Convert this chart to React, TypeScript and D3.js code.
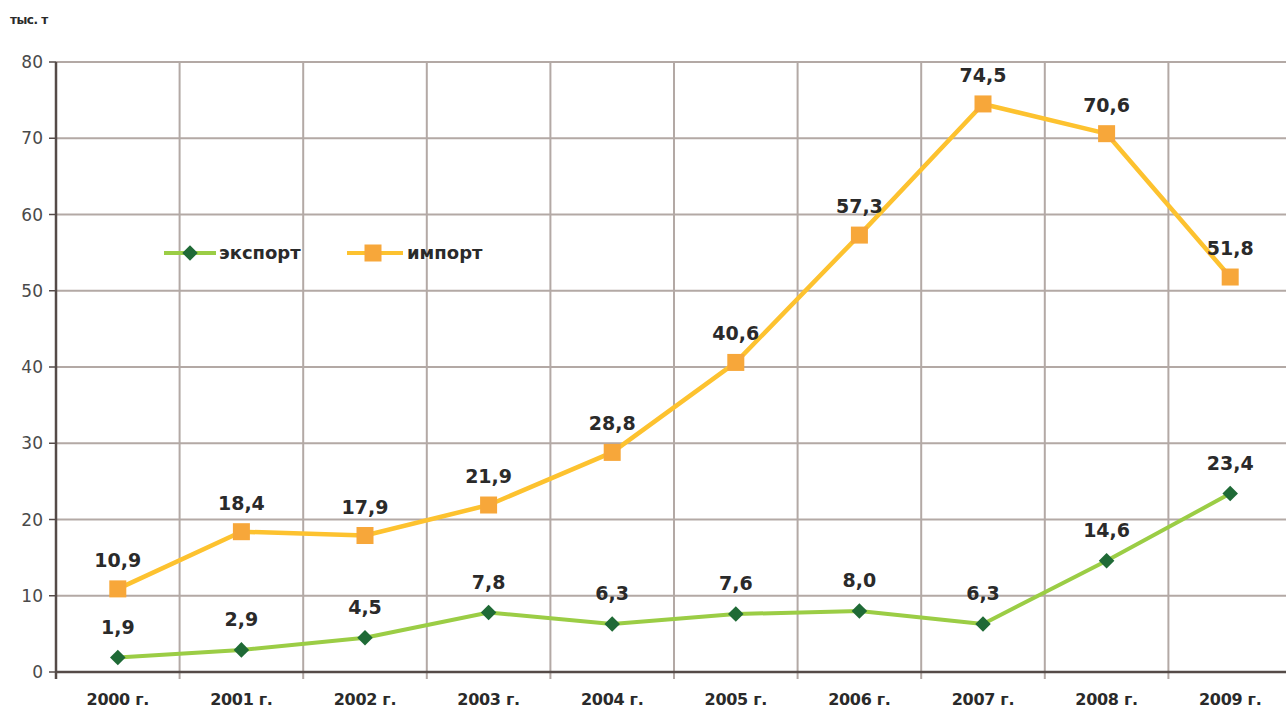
import React from 'react';
import * as d3 from 'd3';

const years = ['2000 г.', '2001 г.', '2002 г.', '2003 г.', '2004 г.', '2005 г.', '2006 г.', '2007 г.', '2008 г.', '2009 г.'];
const exportValues = [1.9, 2.9, 4.5, 7.8, 6.3, 7.6, 8.0, 6.3, 14.6, 23.4];
const importValues = [10.9, 18.4, 17.9, 21.9, 28.8, 40.6, 57.3, 74.5, 70.6, 51.8];
const yTicks = [0, 10, 20, 30, 40, 50, 60, 70, 80];

const width = 1286;
const height = 711;
const left = 56;
const top = 62;
const bottom = 672;
const right = left + 123.6 * 10;

const font = '"DejaVu Sans", "Open Sans", sans-serif';
const gridColor = '#b3a9a5';
const axisColor = '#554b48';
const textColor = '#2a2a2a';
const exportLine = '#9bcd45';
const exportMark = '#1f6a36';
const importLine = '#fdc22f';
const importMark = '#f7a73a';

const fmt = (v: number) => v.toFixed(1).replace('.', ',');

export default function App() {
  const x = d3.scaleBand<string>().domain(years).range([left, right]);
  const y = d3.scaleLinear().domain([0, 80]).range([bottom, top]);
  const cx = (i: number) => (x(years[i]) as number) + x.bandwidth() / 2;

  const line = d3.line<number>().x((_, i) => cx(i)).y(d => y(d));

  // vertical grid lines sit on category boundaries
  const boundaries = years.map(yr => (x(yr) as number) + x.bandwidth());

  return (
    <div style={{ position: 'fixed', left: 0, top: 0 }}>
      <svg width={width} height={height} style={{ display: 'block', background: '#fff', fontFamily: font }}>
        <text x={10} y={24} fontSize={12} fontWeight={700} fill={textColor} letterSpacing={-0.5}>тыс. т</text>

        {yTicks.filter(t => t > 0).map(t => (
          <line key={t} x1={left} x2={width} y1={y(t)} y2={y(t)} stroke={gridColor} strokeWidth={2} />
        ))}
        {boundaries.map((b, i) => (
          <line key={i} x1={b} x2={b} y1={top} y2={bottom + 7} stroke={gridColor} strokeWidth={2} />
        ))}

        <line x1={left} x2={left} y1={top} y2={bottom + 7} stroke={axisColor} strokeWidth={2.5} />
        <line x1={left} x2={width} y1={bottom} y2={bottom} stroke={axisColor} strokeWidth={2.5} />
        {yTicks.map(t => (
          <g key={t}>
            <line x1={left - 7} x2={left} y1={y(t)} y2={y(t)} stroke={axisColor} strokeWidth={1.5} />
            <text x={left - 13} y={y(t)} dy="0.36em" textAnchor="end" fontSize={17} fill="#4a4a4a">{t}</text>
          </g>
        ))}
        {years.map((yr, i) => (
          <text key={yr} x={cx(i)} y={bottom + 33} textAnchor="middle" fontSize={16} fontWeight={700} fill={textColor} letterSpacing={-0.3}>{yr}</text>
        ))}

        {/* импорт */}
        <path d={line(importValues) || ''} fill="none" stroke={importLine} strokeWidth={4.5} strokeLinejoin="round" />
        {importValues.map((v, i) => (
          <g key={i}>
            <rect x={cx(i) - 8.5} y={y(v) - 8.5} width={17} height={17} fill={importMark} />
            <text x={cx(i)} y={y(v) - 22} textAnchor="middle" fontSize={19} fontWeight={700} fill={textColor}>{fmt(v)}</text>
          </g>
        ))}

        {/* экспорт */}
        <path d={line(exportValues) || ''} fill="none" stroke={exportLine} strokeWidth={4} strokeLinejoin="round" />
        {exportValues.map((v, i) => (
          <g key={i}>
            <rect x={cx(i) - 5.5} y={y(v) - 5.5} width={11} height={11} fill={exportMark} transform={`rotate(45 ${cx(i)} ${y(v)})`} />
            <text x={cx(i)} y={y(v) - 24} textAnchor="middle" fontSize={19} fontWeight={700} fill={textColor}>{fmt(v)}</text>
          </g>
        ))}

        {/* legend */}
        <g>
          <line x1={164} x2={216} y1={253} y2={253} stroke={exportLine} strokeWidth={4} />
          <rect x={184.5} y={247.5} width={11} height={11} fill={exportMark} transform="rotate(45 190 253)" />
          <text x={219} y={253} dy="0.36em" fontSize={18} fontWeight={700} fill={textColor}>экспорт</text>
          <line x1={347} x2={403} y1={253} y2={253} stroke={importLine} strokeWidth={4} />
          <rect x={364.5} y={244.5} width={17} height={17} fill={importMark} />
          <text x={407} y={253} dy="0.36em" fontSize={18} fontWeight={700} fill={textColor}>импорт</text>
        </g>
      </svg>
    </div>
  );
}
